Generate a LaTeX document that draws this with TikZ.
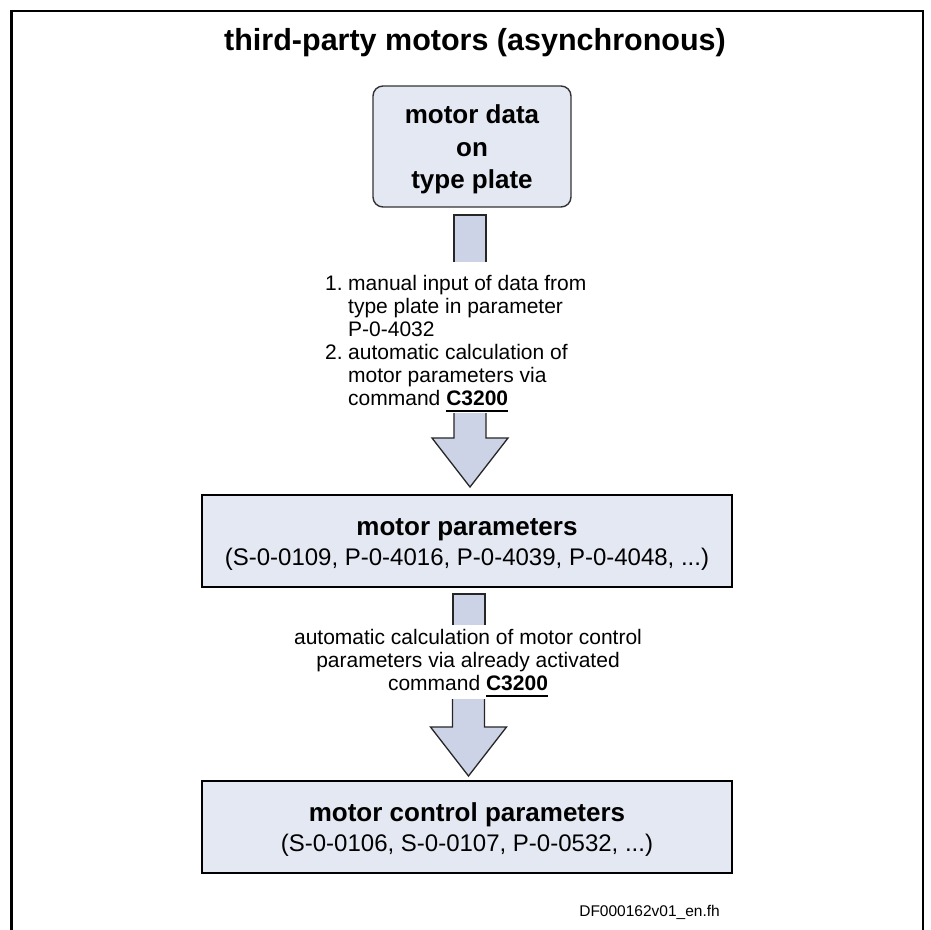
\documentclass[tikz,border=0pt]{standalone}
\usepackage{fontspec}
\setmainfont{Liberation Sans}
\usetikzlibrary{calc}

% bold command name with a heavy underline set a little below the baseline
\newlength\culen
\newcommand\cmdref[1]{\settowidth\culen{\textbf{#1}}\textbf{#1}\hspace{-\culen}\rule[-7pt]{\culen}{2pt}}

\definecolor{boxfill}{RGB}{228,232,242}
\definecolor{arrowfill}{RGB}{204,211,231}

\begin{document}
\begin{tikzpicture}[x=1pt,y=-1pt,
  framebox/.style={draw=black, line width=2.2pt},
  platebox/.style={draw=black!80, line width=1.4pt, fill=boxfill, rounded corners=10pt,
    minimum width=198pt, minimum height=121pt, inner sep=0pt},
  platetext/.style={align=center, inner sep=0pt, font=\fontsize{26}{32.5}\selectfont\bfseries},
  parambox/.style={draw=black, line width=2.4pt, fill=boxfill, minimum width=530pt,
    minimum height=92pt, inner sep=0pt},
  paramtext/.style={align=center, inner sep=0pt, font=\fontsize{24}{30}\selectfont},
  blockarrow/.style={fill=arrowfill, draw=black!85, line width=1.3pt, line join=miter},
  note/.style={inner sep=0pt, font=\fontsize{21}{23}\selectfont},
]
\useasboundingbox (0,0) rectangle (930,930);
\fill[white] (0,0) rectangle (930,930);

% open frame around the sheet
\draw[framebox] (11.5,932) -- (11.5,11) -- (923,11) -- (923,932);

% heading
\node[font=\fontsize{30.5}{36}\selectfont\bfseries, inner sep=0pt] (title) at (475,43)
  {third-party motors (asynchronous)};

% source of the data
\node[platebox] (plate) at (472,146.5) {};
\node[platetext] (platelabel) at ($(plate.center)+(0,3)$) {motor data\\on\\type plate};

% first step: stub below the plate, text, then the arrow head
\draw[blockarrow] (454,262) -- (454,215) -- (486,215) -- (486,262);
\coordinate (tip1) at (470,487);
\draw[blockarrow] (454,413) -- (454,438) -- (432,438) -- (tip1) -- (508,438) -- (486,438) -- (486,413);
\node[note, anchor=north west] (step1) at (325,274) {%
  \begin{tabular}{@{}l@{\hspace{5.5pt}}l@{}}
  1. & manual input of data from\\
     & type plate in parameter\\
     & P-0-4032\\
  2. & automatic calculation of\\
     & motor parameters via\\
     & command \cmdref{C3200}
  \end{tabular}};

% motor parameters
\node[parambox] (params) at (467,541) {};
\node[paramtext] (paramslabel) at ($(params.center)+(0,3)$)
  {{\fontsize{26}{30}\selectfont\bfseries motor parameters}\\
   (S-0-0109, P-0-4016, P-0-4039, P-0-4048, ...)};

% second step
\draw[blockarrow] (453,625) -- (453,594) -- (485,594) -- (485,625);
\coordinate (tip2) at (468.5,776);
\draw[blockarrow] (452.5,699) -- (452.5,727) -- (430.5,727) -- (tip2) -- (506.5,727) -- (484.5,727) -- (484.5,699);
\node[note, anchor=north] (step2) at (468,628) {%
  \begin{tabular}{@{}c@{}}
  automatic calculation of motor control\\
  parameters via already activated\\
  command \cmdref{C3200}
  \end{tabular}};

% motor control parameters
\node[parambox] (ctrl) at (467,827) {};
\node[paramtext] (ctrllabel) at ($(ctrl.center)+(0,3)$)
  {{\fontsize{26}{30}\selectfont\bfseries motor control parameters}\\
   (S-0-0106, S-0-0107, P-0-0532, ...)};

% document id
\node[font=\fontsize{15.5}{18}\selectfont, anchor=east, inner sep=0pt] (docid) at (720,912)
  {DF000162v01\_en.fh};
\end{tikzpicture}
\end{document}
